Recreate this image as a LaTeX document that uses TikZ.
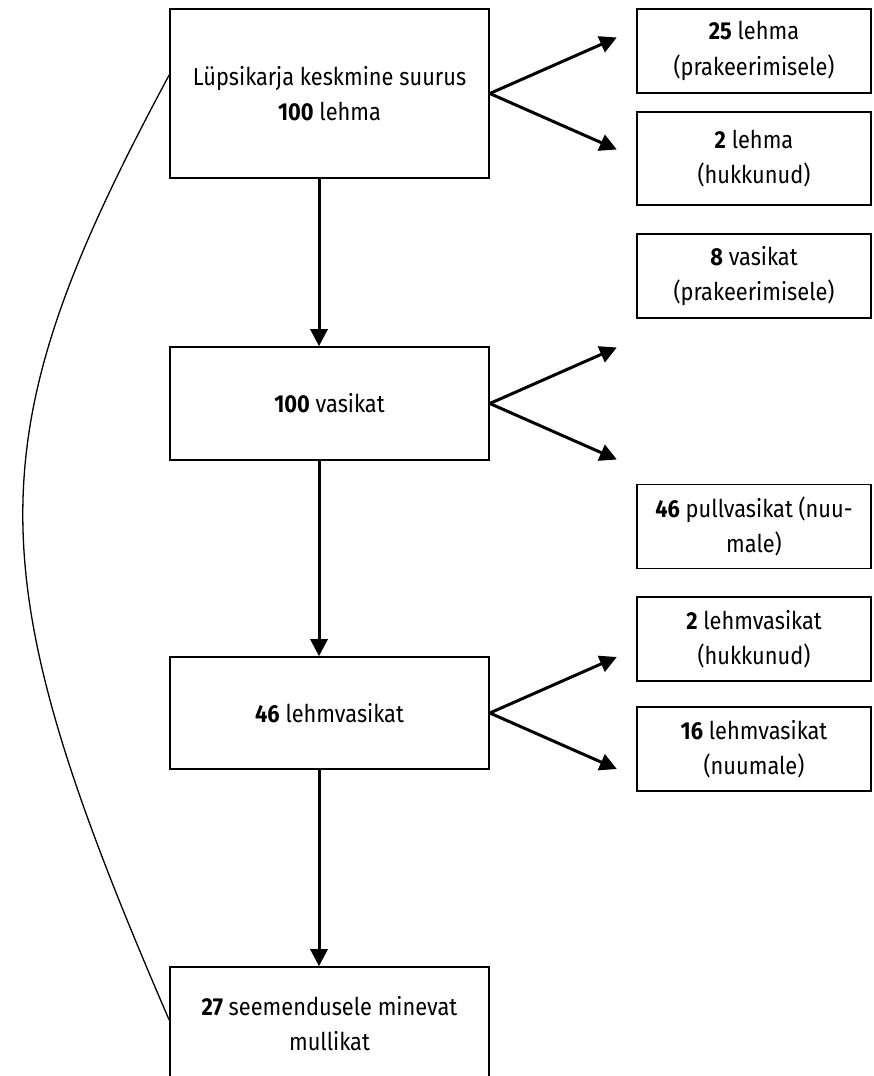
\documentclass[tikz,border=0pt]{standalone}
\usepackage{fontspec}
\setmainfont[FakeStretch=0.89]{Fira Sans}
\usetikzlibrary{arrows.meta,calc}
\begin{document}
\begin{tikzpicture}[x=1pt,y=-1pt,
  box/.style={draw=black, line width=1.6pt, align=center, inner sep=0pt,
    font=\fontsize{24.5}{35.5}\selectfont},
  mainbox/.style={box, minimum width=319pt, minimum height=113pt},
  sidebox/.style={box, minimum width=234pt, minimum height=84pt},
  flow/.style={line width=3pt, -{Triangle[length=17pt,width=17pt]}},
  loopline/.style={line width=1.3pt}]
\useasboundingbox (0,0) rectangle (874,1076);
\clip (0,0) rectangle (874,1076);

% main column
\node[mainbox, minimum height=169pt] (b1) at (329.5,93.5) {Lüpsikarja keskmine suurus\\\textbf{100} lehma};
\node[mainbox] (b2) at (329.5,403.5) {\textbf{100} vasikat};
\node[mainbox, minimum height=112pt] (b3) at (329.5,713) {\textbf{46} lehmvasikat};
\node[mainbox] (b4) at (329.5,1023.5) {\textbf{27} seemendusele minevat\\mullikat};

% side boxes
\node[sidebox] (r1) at (754,51) {\textbf{25} lehma\\(prakeerimisele)};
\node[sidebox, minimum height=93pt] (r2) at (754,158.5) {\textbf{2} lehma\\(hukkunud)};
\node[sidebox] (r3) at (754,276) {\textbf{8} vasikat\\(prakeerimisele)};
\node[sidebox] (r4) at (754,526.5) {\textbf{46} pullvasikat (nuu-\\male)};
\node[sidebox] (r5) at (754,639) {\textbf{2} lehmvasikat\\(hukkunud)};
\node[sidebox] (r6) at (754,749) {\textbf{16} lehmvasikat\\(nuumale)};

% vertical arrows
\draw[flow] ([xshift=-10.5pt]b1.south) -- ([xshift=-10.5pt]b2.north);
\draw[flow] ([xshift=-10.5pt]b2.south) -- ([xshift=-10.5pt]b3.north);
\draw[flow] ([xshift=-10.5pt]b3.south) -- ([xshift=-10.5pt]b4.north);

% branching arrows
\foreach \b in {b1,b2,b3}{
  \coordinate (\b up) at ($(\b.east)+(127,-56)$);
  \coordinate (\b dn) at ($(\b.east)+(127,56)$);
  \draw[flow] (\b.east) -- (\b up);
  \draw[flow] (\b.east) -- (\b dn);
}

% loop curve
\draw[loopline] ([yshift=18.5pt]b1.west) .. controls (-26,438) and (-26,569) .. ([yshift=3.5pt]b4.west);
\end{tikzpicture}
\end{document}
